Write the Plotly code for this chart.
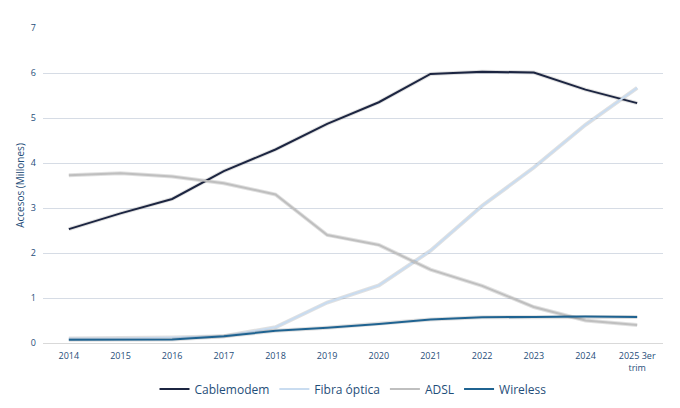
import plotly.graph_objects as go

years = ["2014", "2015", "2016", "2017", "2018", "2019", "2020", "2021",
         "2022", "2023", "2024", "2025 3er<br>trim"]
cablemodem = [2.53, 2.88, 3.2, 3.82, 4.3, 4.87, 5.35, 5.98, 6.03, 6.01, 5.63, 5.33]
fibra = [0.1, 0.1, 0.12, 0.15, 0.35, 0.9, 1.28, 2.05, 3.05, 3.9, 4.85, 5.67]
adsl = [3.73, 3.77, 3.7, 3.55, 3.3, 2.4, 2.18, 1.63, 1.27, 0.8, 0.5, 0.4]
wireless = [0.07, 0.08, 0.08, 0.15, 0.27, 0.34, 0.42, 0.52, 0.57, 0.58, 0.59, 0.58]

series = [("Cablemodem", cablemodem, "#1c2541"),
          ("Fibra óptica", fibra, "#c9dcf0"),
          ("ADSL", adsl, "#bfbfbf"),
          ("Wireless", wireless, "#1f6391")]

fig = go.Figure()
for name, vals, color in series:
    fig.add_trace(go.Scatter(x=years, y=vals, mode="lines", showlegend=False,
                             line=dict(color="rgba(0,0,0,0.12)", width=4),
                             hoverinfo="skip"))
    fig.add_trace(go.Scatter(x=years, y=vals, name=name, mode="lines",
                             line=dict(color=color, width=2)))

fig.update_layout(
    width=680, height=408,
    margin=dict(l=33, r=25, t=20, b=54),
    plot_bgcolor="white", paper_bgcolor="white",
    font=dict(family="Open Sans", color="#1f4e79", size=10),
    legend=dict(orientation="h", x=0.5, xanchor="center", y=-0.1,
                font=dict(size=12, color="#1f4e79")),
    xaxis=dict(showgrid=False, showline=True, linecolor="#d9d9d9",
               range=[-0.5, 11.5], tickfont=dict(size=9), ticklabelstandoff=4),
    yaxis=dict(range=[0, 7], dtick=1, gridcolor="#d6dce5",
               tickfont=dict(size=9), ticklabelstandoff=6,
               title=dict(text="Accesos (Millones)", font=dict(size=10),
                          standoff=4)),
)
fig.write_html("out.html")
